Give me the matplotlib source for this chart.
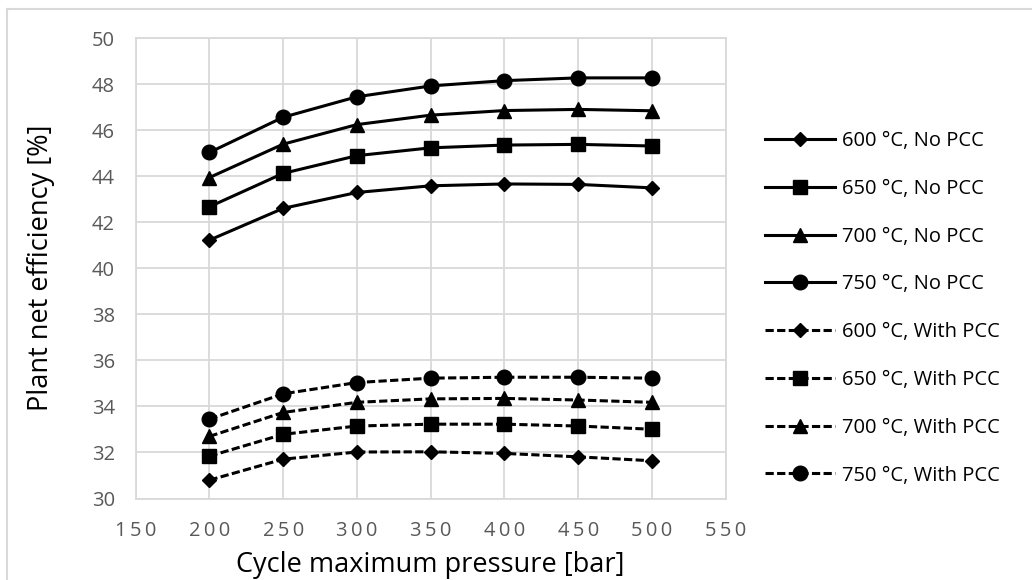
import matplotlib
matplotlib.use("Agg")
import matplotlib.pyplot as plt
from matplotlib.lines import Line2D

pressure = [200, 250, 300, 350, 400, 450, 500]

no_pcc_600 = [41.23, 42.61, 43.30, 43.59, 43.67, 43.65, 43.50]
no_pcc_650 = [42.68, 44.13, 44.90, 45.24, 45.36, 45.39, 45.32]
no_pcc_700 = [43.95, 45.40, 46.25, 46.66, 46.86, 46.91, 46.85]
no_pcc_750 = [45.04, 46.57, 47.46, 47.93, 48.16, 48.28, 48.28]

pcc_600 = [30.80, 31.71, 32.02, 32.03, 31.96, 31.81, 31.64]
pcc_650 = [31.84, 32.79, 33.15, 33.23, 33.23, 33.15, 33.01]
pcc_700 = [32.70, 33.74, 34.18, 34.33, 34.35, 34.28, 34.18]
pcc_750 = [33.45, 34.55, 35.04, 35.23, 35.27, 35.27, 35.23]

labels = ["600 °C, No PCC", "650 °C, No PCC", "700 °C, No PCC", "750 °C, No PCC",
          "600 °C, With PCC", "650 °C, With PCC", "700 °C, With PCC", "750 °C, With PCC"]
x_ticks = [150, 200, 250, 300, 350, 400, 450, 500, 550]
y_ticks = [30, 32, 34, 36, 38, 40, 42, 44, 46, 48, 50]

markers = ["D", "s", "^", "o"]
msizes = [7.5, 10, 10.5, 10.5]

plt.rcParams['font.family'] = ['Open Sans', 'DejaVu Sans']

W, H = 1032, 580
fig = plt.figure(figsize=(W / 100, H / 100), dpi=100)
ax = fig.add_axes([135.7 / W, 1 - 498.5 / H, (725.7 - 135.7) / W, (498.5 - 38.3) / H])

dash = (0, (2.7, 1.1))
series = [no_pcc_600, no_pcc_650, no_pcc_700, no_pcc_750, pcc_600, pcc_650, pcc_700, pcc_750]
handles = []
for k, vals in enumerate(series):
    ls = "-" if k < 4 else dash
    h, = ax.plot(pressure, vals, color="black", lw=2.2, linestyle=ls,
                 marker=markers[k % 4], markersize=msizes[k % 4], label=labels[k],
                 zorder=3)
    handles.append(h)

ax.set_xlim(150, 550)
ax.set_ylim(30, 50)
ax.set_xticks(x_ticks)
ax.set_yticks(y_ticks)
# excel-like letter spacing on the x tick labels
ax.set_xticklabels(["\u2009".join(str(v)) for v in x_ticks])
ax.grid(True, color="#d9d9d9", lw=1.3, zorder=0)
for s in ax.spines.values():
    s.set_color("#d9d9d9")
    s.set_linewidth(1.3)
ax.tick_params(axis="x", length=0, colors="#595959", labelsize=14.5, pad=16)
ax.tick_params(axis="y", length=0, colors="#595959", labelsize=14.5, pad=15)

fig.text(430 / W, 8 / H, "Cycle maximum pressure [bar]", fontsize=19.5, ha="center", va="baseline")
fig.text(41 / W, 1 - 268 / H, "Plant net efficiency [%]", fontsize=19.5, rotation=90,
         ha="center", va="center")

leg = fig.legend(handles=handles, loc="upper left", bbox_to_anchor=(765 / W, 1 - 131 / H),
                 frameon=False, fontsize=14.5, handlelength=3.5, handletextpad=0.3,
                 labelspacing=1.38, borderaxespad=0, borderpad=0)

# outer chart border (top and left visible)
fig.add_artist(Line2D([7 / W, 1.0], [1 - 9 / H, 1 - 9 / H], color="#d9d9d9", lw=1.5,
                      transform=fig.transFigure))
fig.add_artist(Line2D([7 / W, 7 / W], [0, 1 - 9 / H], color="#d9d9d9", lw=1.5,
                      transform=fig.transFigure))

fig.savefig("out.png", dpi=100)
